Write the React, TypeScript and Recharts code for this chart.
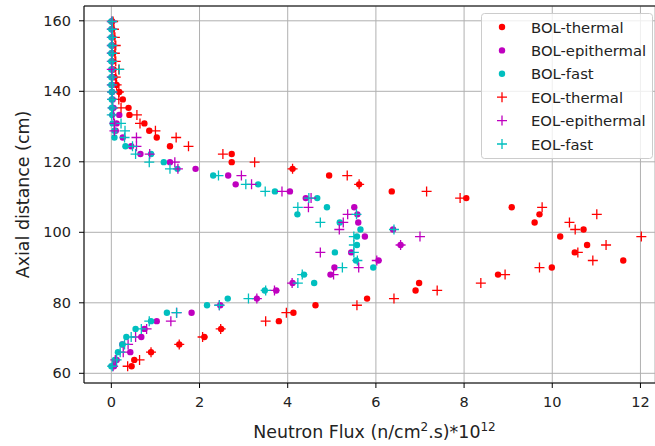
import { ScatterChart, Scatter, XAxis, YAxis, CartesianGrid, ReferenceLine } from 'recharts';

// axial positions (cm), bottom to top
const axial = [
  62.0, 63.8, 66.0, 68.2, 70.3, 72.6, 74.8, 77.2, 79.3, 81.2,
  83.5, 85.6, 88.0, 90.0, 92.0, 94.3, 96.4, 98.8, 100.8, 102.8,
  105.1, 107.1, 109.7, 111.6, 113.6, 116.1, 118.0, 119.9, 122.2, 124.4,
  126.9, 128.8, 130.9, 133.3, 135.3, 137.7, 139.8, 141.8, 144.0, 146.2,
  148.5, 150.8, 153.0, 155.3, 157.6, 159.8,
];

// flux values (n/cm2.s)*1e12
const bolThermal = [
  0.46, 0.52, 0.90, 1.54, 2.11, 2.49, 3.80, 4.13, 4.63, 5.80,
  6.90, 6.98, 8.77, 9.99, 11.61, 10.51, 10.79, 10.18, 10.71, 9.60,
  9.71, 9.08, 8.05, 6.36, 5.62, 4.94, 4.11, 2.73, 2.73, 1.33,
  1.03, 0.86, 0.75, 0.41, 0.39, 0.26, 0.18, 0.12, 0.07, 0.05,
  0.04, 0.04, 0.03, 0.03, 0.02, 0.02,
];
const bolEpithermal = [
  0.06, 0.12, 0.43, 0.25, 0.68, 0.75, 1.03, 1.82, 2.47, 3.30,
  3.74, 4.11, 4.97, 5.06, 6.06, 5.44, 6.56, 5.75, 6.39, 5.60,
  5.58, 5.51, 4.41, 4.05, 2.82, 2.65, 1.91, 1.33, 0.66, 0.45,
  0.26, 0.10, 0.12, 0.18, 0.05, 0.03, 0.02, 0.02, 0.02, 0.02,
  0.01, 0.01, 0.01, 0.01, 0.01, 0.01,
];
const bolFast = [
  0.00, 0.08, 0.15, 0.25, 0.34, 0.55, 0.90, 1.26, 2.17, 2.64,
  3.48, 4.60, 4.37, 5.94, 5.55, 5.07, 5.57, 5.57, 5.65, 5.18,
  4.22, 4.89, 4.67, 3.71, 3.33, 2.31, 1.50, 1.19, 0.90, 0.32,
  0.07, 0.07, 0.03, 0.02, 0.01, 0.01, 0.01, 0.00, 0.00, 0.00,
  0.00, 0.00, 0.00, 0.00, 0.00, 0.00,
];
const eolThermal = [
  0.37, 0.64, 0.90, 1.54, 2.07, 2.48, 3.50, 3.97, 5.57, 6.41,
  7.39, 8.38, 8.93, 9.71, 10.92, 10.58, 11.22, 12.02, 10.52, 10.39,
  11.01, 9.77, 7.91, 7.15, 5.62, 5.35, 4.11, 3.25, 2.53, 1.75,
  1.47, 1.00, 0.65, 0.58, 0.22, 0.17, 0.17, 0.12, 0.10, 0.17,
  0.10, 0.08, 0.10, 0.08, 0.06, 0.04,
];
const eolEpithermal = [
  0.04, 0.09, 0.27, 0.38, 0.55, 0.80, 1.35, 1.48, 2.45, 3.30,
  3.70, 4.10, 5.04, 5.61, 6.02, 4.74, 6.56, 7.00, 5.17, 5.26,
  5.36, 4.47, 4.53, 3.87, 3.18, 2.95, 1.51, 1.44, 0.87, 0.57,
  0.57, 0.07, 0.07, 0.05, 0.03, 0.02, 0.02, 0.01, 0.01, 0.01,
  0.01, 0.01, 0.01, 0.01, 0.01, 0.01,
];
const eolFast = [
  0.02, 0.12, 0.20, 0.30, 0.45, 0.68, 0.86, 1.48, 2.45, 3.11,
  3.50, 4.23, 4.33, 5.24, 5.58, 5.50, 5.50, 5.50, 6.41, 4.74,
  5.56, 4.23, 4.48, 3.49, 3.05, 2.43, 1.33, 0.86, 0.55, 0.48,
  0.30, 0.31, 0.22, 0.01, 0.03, 0.02, 0.02, 0.02, 0.02, 0.18,
  0.02, 0.02, 0.02, 0.02, 0.02, 0.02,
];

const xTicks = [0, 2, 4, 6, 8, 10, 12];
const yTicks = [60, 80, 100, 120, 140, 160];

const RED = '#ff0000';
const PURPLE = '#bf00bf';
const CYAN = '#00bfbf';
const FONT = '"DejaVu Sans", sans-serif';
const Y_MAX = 164.2;

const series = [
  { name: 'BOL-thermal', values: bolThermal, color: RED, kind: 'dot' },
  { name: 'BOL-epithermal', values: bolEpithermal, color: PURPLE, kind: 'dot' },
  { name: 'BOL-fast', values: bolFast, color: CYAN, kind: 'dot' },
  { name: 'EOL-thermal', values: eolThermal, color: RED, kind: 'plus' },
  { name: 'EOL-epithermal', values: eolEpithermal, color: PURPLE, kind: 'plus' },
  { name: 'EOL-fast', values: eolFast, color: CYAN, kind: 'plus' },
];

const marker = (kind: string, color: string, cx: number, cy: number) =>
  kind === 'dot' ? (
    <circle cx={cx} cy={cy} r={3.2} fill={color} />
  ) : (
    <path d={`M${cx - 5},${cy}h10M${cx},${cy - 5}v10`} stroke={color} strokeWidth={1.3} fill="none" />
  );

const LegendBox = () => (
  <svg width={172} height={146} style={{ display: 'block' }}>
    <rect x={0.5} y={0.5} width={171} height={145} rx={3} fill="#ffffff" fillOpacity={0.8} stroke="#cccccc" />
    {series.map((s, i) => {
      const y = 14 + i * 23.4;
      return (
        <g key={s.name}>
          {marker(s.kind, s.color, 21, y)}
          <text x={50} y={y} dominantBaseline="central" fontFamily={FONT} fontSize={14.8} fill="#222">
            {s.name}
          </text>
        </g>
      );
    })}
  </svg>
);

const XLabel = ({ viewBox }: any) => (
  <text x={viewBox.x + viewBox.width / 2 + 5} y={438} textAnchor="middle" fontFamily={FONT} fontSize={17.4} fill="#222">
    Neutron Flux (n/cm<tspan dy={-7} fontSize={12}>2</tspan>
    <tspan dy={7}>.s)*10</tspan>
    <tspan dy={-7} fontSize={12}>12</tspan>
  </text>
);

const YLabel = ({ viewBox }: any) => {
  const cy = viewBox.y + viewBox.height / 2;
  return (
    <text x={23} y={cy} transform={`rotate(-90, 23, ${cy})`} textAnchor="middle" dominantBaseline="central"
      fontFamily={FONT} fontSize={17.4} fill="#222">
      Axial distance (cm)
    </text>
  );
};

export default function App() {
  const tickStyle = { fontFamily: FONT, fontSize: 14.5, fill: '#222' };
  return (
    <div style={{ position: 'absolute', left: 0, top: 0, width: 655, height: 446, background: '#fff' }}>
      <ScatterChart width={655} height={446} margin={{ top: 6, right: 0, bottom: 13, left: 0 }}>
        <CartesianGrid stroke="#b0b0b0" strokeWidth={1} />
        <XAxis type="number" dataKey="flux" domain={[-0.62, 12.33]} ticks={xTicks} allowDataOverflow
          height={50} tick={tickStyle} tickSize={5} tickMargin={9}
          axisLine={{ stroke: '#000' }} tickLine={{ stroke: '#000' }} label={<XLabel />} />
        <YAxis type="number" dataKey="z" domain={[57.25, Y_MAX]} ticks={yTicks} allowDataOverflow
          width={84} tick={tickStyle} tickSize={5} tickMargin={8}
          axisLine={{ stroke: '#000' }} tickLine={{ stroke: '#000' }} label={<YLabel />} />
        <ReferenceLine y={Y_MAX} stroke="#000" strokeWidth={1} />
        {series.map((s) => (
          <Scatter
            key={s.name}
            name={s.name}
            data={s.values.map((flux, i) => ({ flux, z: axial[i] }))}
            fill={s.color}
            isAnimationActive={false}
            shape={(p: any) => marker(s.kind, s.color, p.cx, p.cy)}
          />
        ))}
      </ScatterChart>
      <div style={{ position: 'absolute', left: 481, top: 13 }}>
        <LegendBox />
      </div>
    </div>
  );
}
